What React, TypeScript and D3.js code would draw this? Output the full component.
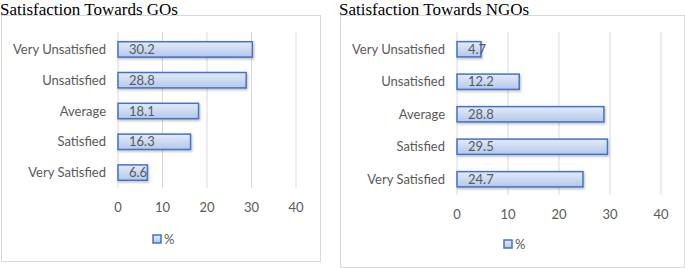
import React from "react";
import * as d3 from "d3";

const categories = ["Very Unsatisfied", "Unsatisfied", "Average", "Satisfied", "Very Satisfied"];
const goValues = [30.2, 28.8, 18.1, 16.3, 6.6];
const ngoValues = [4.7, 12.2, 28.8, 29.5, 24.7];
const xTicks = [0, 10, 20, 30, 40];
const titles = ["Satisfaction Towards GOs", "Satisfaction Towards NGOs"];
const legendLabel = "%";

type PanelProps = {
  id: string;
  title: string;
  values: number[];
  box: { x: number; y: number; w: number; h: number };
  plot: { x0: number; x1: number; y0: number; y1: number };
  band: [number, number];
  pad: number;
  tickY: number;
  legendX: number;
  legendY: number;
};

const FONT = "Lato, 'Open Sans', sans-serif";
const GRAY = "#595959";

function Panel({ id, title, values, box, plot, band, pad, tickY, legendX, legendY }: PanelProps) {
  const x = d3.scaleLinear().domain([0, 40]).range([plot.x0, plot.x1]);
  const y = d3.scaleBand<string>().domain(categories).range(band).paddingInner(pad).paddingOuter(pad / 2);
  return (
    <g>
      <text x={box.x - 1} y={15} fontFamily="'Liberation Serif', 'Times New Roman', serif" fontSize={17} fill="#000">
        {title}
      </text>
      <rect x={box.x + 0.5} y={box.y + 0.5} width={box.w} height={box.h} fill="#fff" stroke="#d9d9d9" strokeWidth={1} />
      {xTicks.map((t) => (
        <line key={t} x1={x(t)} x2={x(t)} y1={plot.y0} y2={plot.y1} stroke="#d9d9d9" strokeWidth={1} />
      ))}
      {categories.map((c, i) => (
        <g key={c}>
          <rect
            x={x(0)}
            y={y(c)!}
            width={x(values[i]) - x(0)}
            height={y.bandwidth()}
            fill={`url(#grad-${id})`}
            stroke="#4472c4"
            strokeWidth={1.5}
            filter={`url(#shadow-${id})`}
          />
          <text x={plot.x0 - 12} y={y(c)! + y.bandwidth() / 2} dy="0.35em" textAnchor="end" fontFamily={FONT} fontSize={13} fill={GRAY}>
            {c}
          </text>
          <text x={x(0) + 11} y={y(c)! + y.bandwidth() / 2} dy="0.35em" fontFamily={FONT} fontSize={13} fill={GRAY}>
            {values[i]}
          </text>
        </g>
      ))}
      {xTicks.map((t) => (
        <text key={"t" + t} x={x(t)} y={tickY} dy="0.35em" textAnchor="middle" fontFamily={FONT} fontSize={13} fill={GRAY}>
          {t}
        </text>
      ))}
      <rect x={legendX} y={legendY - 4} width={8} height={8} fill={`url(#grad-${id})`} stroke="#4472c4" strokeWidth={1.5} />
      <text x={legendX + 11} y={legendY} dy="0.35em" fontFamily={FONT} fontSize={13} fill={GRAY}>
        {legendLabel}
      </text>
    </g>
  );
}

export default function App() {
  const ids = ["go", "ngo"];
  return (
    <svg width={685} height={268} style={{ position: "fixed", left: 0, top: 0, background: "#fff" }}>
      <defs>
        {ids.map((id) => (
          <React.Fragment key={id}>
            <linearGradient id={`grad-${id}`} x1="0" y1="0" x2="0" y2="1">
              <stop offset="0%" stopColor="#e3ebf8" />
              <stop offset="100%" stopColor="#b3c8ec" />
            </linearGradient>
            <filter id={`shadow-${id}`} x="-5%" y="-20%" width="115%" height="160%">
              <feDropShadow dx="1" dy="1.5" stdDeviation="1" floodColor="#000" floodOpacity="0.25" />
            </filter>
          </React.Fragment>
        ))}
      </defs>
      <rect width={685} height={268} fill="#fff" />
      <Panel
        id="go"
        title={titles[0]}
        values={goValues}
        box={{ x: 1, y: 15, w: 319, h: 246 }}
        plot={{ x0: 118, x1: 296, y0: 32, y1: 188 }}
        band={[34, 188]}
        pad={0.5}
        tickY={207}
        legendX={153}
        legendY={239}
      />
      <Panel
        id="ngo"
        title={titles[1]}
        values={ngoValues}
        box={{ x: 340, y: 15, w: 344, h: 252 }}
        plot={{ x0: 457, x1: 661, y0: 32, y1: 195 }}
        band={[33, 195.5]}
        pad={0.53}
        tickY={214}
        legendX={504}
        legendY={244}
      />
    </svg>
  );
}
